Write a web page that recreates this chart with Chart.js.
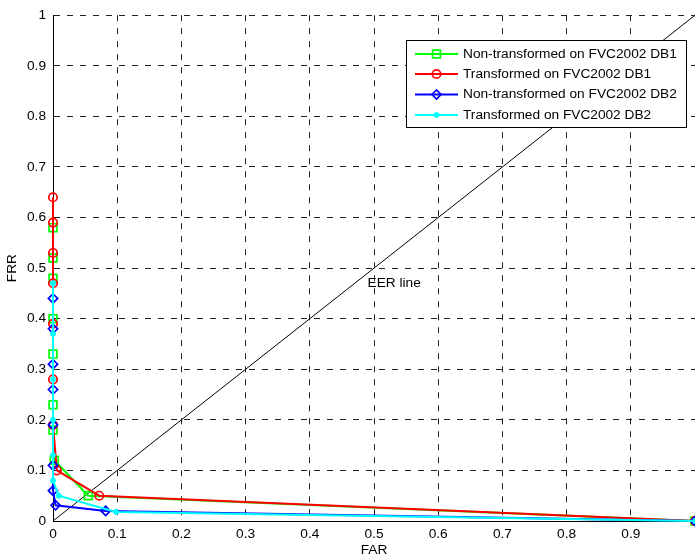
<!DOCTYPE html>
<html>
<head>
<meta charset="utf-8">
<script src="https://cdn.jsdelivr.net/npm/chart.js@4"></script>
<style>
  html, body { margin: 0; padding: 0; background: #fff; }
  canvas { display: block; }
</style>
</head>
<body>
<canvas id="det" width="695" height="559"></canvas>
<script>
// FAR / FRR points
var labels = ['Non-transformed on FVC2002 DB1', 'Transformed on FVC2002 DB1',
              'Non-transformed on FVC2002 DB2', 'Transformed on FVC2002 DB2'];

var farNonDb1 = [0, 0, 0, 0, 0, 0, 0, 0.002, 0.055, 1];
var frrNonDb1 = [0.58, 0.52, 0.48, 0.40, 0.33, 0.23, 0.18, 0.12, 0.05, 0];

var farTrDb1 = [0, 0, 0, 0, 0, 0, 0, 0.006, 0.072, 1];
var frrTrDb1 = [0.64, 0.59, 0.53, 0.47, 0.39, 0.28, 0.19, 0.10, 0.05, 0];

var farNonDb2 = [0, 0, 0, 0, 0, 0, 0, 0.004, 0.082, 1];
var frrNonDb2 = [0.44, 0.38, 0.31, 0.26, 0.19, 0.11, 0.06, 0.031, 0.02, 0];

var farTrDb2 = [0, 0, 0, 0, 0, 0, 0.009, 0.098, 1];
var frrTrDb2 = [0.47, 0.37, 0.28, 0.20, 0.13, 0.08, 0.05, 0.018, 0];

var eerFar = [0, 1];
var eerFrr = [0, 1];

var xTicks = [0, 0.1, 0.2, 0.3, 0.4, 0.5, 0.6, 0.7, 0.8, 0.9];

var fontName = '"Liberation Sans", Arial, Helvetica, sans-serif';
var fontSize = 13.7;

function toPoints(xs, ys) {
  var pts = [];
  for (var i = 0; i < xs.length; i++) pts.push({ x: xs[i], y: ys[i] });
  return pts;
}

function curve(label, xs, ys, color, style, radius, order) {
  return {
    label: label,
    data: toPoints(xs, ys),
    borderColor: color,
    backgroundColor: color,
    borderWidth: 2,
    pointStyle: style,
    pointRadius: radius,
    pointBorderWidth: 1.7,
    pointBackgroundColor: 'rgba(0,0,0,0)',
    pointBorderColor: color,
    tension: 0,
    clip: false,
    order: order
  };
}

var datasets = [
  {
    label: 'EER',
    data: toPoints(eerFar, eerFrr),
    borderColor: '#000',
    borderWidth: 1,
    pointRadius: 0,
    clip: 0,
    order: 5
  },
  curve(labels[0], farNonDb1, frrNonDb1, '#00ff00', 'rect', 5.5, 4),
  curve(labels[1], farTrDb1, frrTrDb1, '#ff0000', 'circle', 4.2, 3),
  curve(labels[2], farNonDb2, frrNonDb2, '#0000ff', 'rectRot', 4.6, 2),
  curve(labels[3], farTrDb2, frrTrDb2, '#00ffff', 'star', 3, 1)
];

// legend box + "EER line" text, drawn on top
var extras = {
  id: 'extras',
  afterDraw: function (chart) {
    var ctx = chart.ctx;
    var xs = chart.scales.x, ys = chart.scales.y;
    ctx.save();
    ctx.font = fontSize + 'px ' + fontName;
    ctx.fillStyle = '#000';
    ctx.textBaseline = 'middle';
    ctx.textAlign = 'left';
    ctx.fillText('EER line', xs.getPixelForValue(0.49), ys.getPixelForValue(0.47));

    // legend
    var bx = 406, by = 40, bw = 280, bh = 87;
    ctx.fillStyle = '#fff';
    ctx.fillRect(bx, by, bw, bh);
    ctx.strokeStyle = '#000';
    ctx.lineWidth = 1;
    ctx.strokeRect(bx + 0.5, by + 0.5, bw, bh);
    var rows = [54, 74, 94.5, 115];
    for (var i = 0; i < 4; i++) {
      var ds = chart.data.datasets[i + 1];
      var y = rows[i];
      ctx.strokeStyle = ds.borderColor;
      ctx.lineWidth = 2;
      ctx.beginPath();
      ctx.moveTo(415, y);
      ctx.lineTo(458, y);
      ctx.stroke();
      ctx.lineWidth = 1.7;
      ctx.fillStyle = 'rgba(0,0,0,0)';
      Chart.helpers.drawPoint(ctx, {
        pointStyle: ds.pointStyle,
        radius: ds.pointRadius,
        rotation: 0,
        borderWidth: 1.7
      }, 436.5, y);
      ctx.fillStyle = '#000';
      ctx.fillText(ds.label, 463, y);
    }
    ctx.restore();
  }
};

new Chart(document.getElementById('det'), {
  type: 'line',
  data: { datasets: datasets },
  plugins: [extras],
  options: {
    responsive: false,
    animation: false,
    devicePixelRatio: 1,
    layout: { autoPadding: false, padding: { top: 13, right: 0, left: 0, bottom: 0 } },
    plugins: { legend: { display: false }, tooltip: { enabled: false } },
    scales: {
      x: {
        type: 'linear',
        min: 0,
        max: 1,
        afterBuildTicks: function (scale) {
          scale.ticks = xTicks.map(function (v) { return { value: v }; });
        },
        afterFit: function (scale) { scale.height = 38; },
        ticks: {
          padding: 5,
          color: '#000',
          font: { family: fontName, size: fontSize },
          maxRotation: 0,
          callback: function (v) { return String(Math.round(v * 10) / 10); }
        },
        grid: {
          drawTicks: false,
          color: function (c) { return c.tick && c.tick.value === 0 ? 'rgba(0,0,0,0)' : '#222'; },
          lineWidth: 1
        },
        border: { display: true, color: '#000', width: 1, dash: [6, 7] },
        title: {
          display: true,
          text: 'FAR',
          color: '#000',
          font: { family: fontName, size: fontSize },
          padding: { top: 0, bottom: 1 }
        }
      },
      y: {
        type: 'linear',
        min: 0,
        max: 1,
        afterFit: function (scale) { scale.width = 53; },
        ticks: {
          stepSize: 0.1,
          padding: 7,
          color: '#000',
          font: { family: fontName, size: fontSize },
          callback: function (v) { return String(Math.round(v * 10) / 10); }
        },
        grid: {
          drawTicks: false,
          color: function (c) { return c.tick && c.tick.value === 0 ? 'rgba(0,0,0,0)' : '#222'; },
          lineWidth: 1
        },
        border: { display: true, color: '#000', width: 1, dash: [6, 7] },
        title: {
          display: true,
          text: 'FRR',
          color: '#000',
          font: { family: fontName, size: fontSize },
          padding: { top: 4, bottom: 4 }
        }
      }
    }
  }
});
</script>
</body>
</html>
